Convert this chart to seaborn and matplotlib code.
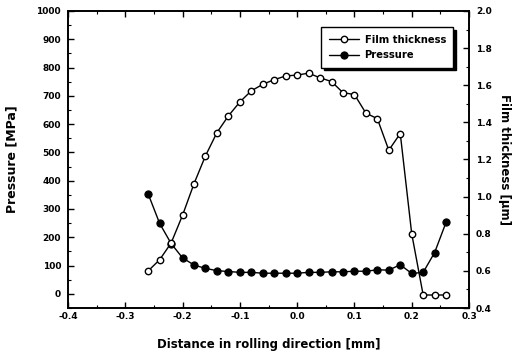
import matplotlib
matplotlib.use("Agg")
import matplotlib.pyplot as plt
import seaborn as sns
import pandas as pd
from matplotlib.ticker import MultipleLocator

# ---- data ----
distance = [-0.26, -0.24, -0.22, -0.20, -0.18, -0.16, -0.14, -0.12, -0.10,
            -0.08, -0.06, -0.04, -0.02, 0.00, 0.02, 0.04, 0.06, 0.08,
            0.10, 0.12, 0.14, 0.16, 0.18, 0.20, 0.22, 0.24, 0.26]
film_thickness = [0.60, 0.66, 0.75, 0.90, 1.07, 1.22, 1.345, 1.435, 1.51,
                  1.57, 1.605, 1.63, 1.65, 1.655, 1.665, 1.64, 1.62, 1.56,
                  1.55, 1.45, 1.42, 1.25, 1.34, 0.80, 0.47, 0.47, 0.47]
pressure = [353, 249, 178, 127, 102, 90, 82, 79, 76,
            76, 73, 73, 73, 73, 76, 76, 78, 78,
            80, 80, 85, 84, 103, 72, 76, 146, 253]

x_ticks = [-0.4, -0.3, -0.2, -0.1, 0.0, 0.1, 0.2, 0.3]
x_tick_labels = ["-0.4", "-0.3", "-0.2", "-0.1", "0.0", "0.1", "0.2", "0.3"]
p_ticks = [0, 100, 200, 300, 400, 500, 600, 700, 800, 900, 1000]
f_ticks = [0.4, 0.6, 0.8, 1.0, 1.2, 1.4, 1.6, 1.8, 2.0]

df = pd.DataFrame({"distance": distance, "film": film_thickness, "pressure": pressure})

sns.set_style("ticks")
plt.rcParams["font.family"] = ["DejaVu Sans"]
plt.rcParams["font.weight"] = "bold"
plt.rcParams["text.color"] = "black"
plt.rcParams["axes.labelcolor"] = "black"
plt.rcParams["xtick.color"] = "black"
plt.rcParams["ytick.color"] = "black"

fig = plt.figure(figsize=(5.16, 3.6), dpi=100)
ax = fig.add_axes([68 / 516, 1 - 308 / 360, (469 - 68) / 516, (308 - 11) / 360])
ax2 = ax.twinx()

sns.lineplot(data=df, x="distance", y="pressure", ax=ax, color="black",
             lw=1.0, marker="o", markersize=5.2, markerfacecolor="black",
             markeredgecolor="black", label="Pressure", legend=False)
sns.lineplot(data=df, x="distance", y="film", ax=ax2, color="black",
             lw=1.0, marker="o", markersize=4.6, markerfacecolor="white",
             markeredgecolor="black", markeredgewidth=1.0,
             label="Film thickness", legend=False)

ax.set_xlim(-0.4, 0.3)
ax.set_ylim(-50, 1000)
ax2.set_ylim(0.4, 2.0)
ax.set_xticks(x_ticks)
ax.set_xticklabels(x_tick_labels)
ax.set_yticks(p_ticks)
ax2.set_yticks(f_ticks)
ax2.set_yticklabels([f"{v:.1f}" for v in f_ticks])
ax.xaxis.set_minor_locator(MultipleLocator(0.05))
ax.yaxis.set_minor_locator(MultipleLocator(50))
ax2.yaxis.set_minor_locator(MultipleLocator(0.1))

for a in (ax, ax2):
    for s in a.spines.values():
        s.set_visible(True)
        s.set_linewidth(1.2)
        s.set_color("black")

ax.tick_params(axis="both", which="major", direction="in", length=4, width=1,
               labelsize=6.5, colors="black", top=True)
ax.tick_params(axis="both", which="minor", direction="in", length=2, width=0.8, top=True)
ax.tick_params(axis="x", pad=3)
ax.tick_params(axis="y", pad=5)
ax2.tick_params(axis="y", which="major", direction="in", length=4, width=1,
                labelsize=6.5, pad=5, colors="black")
ax2.tick_params(axis="y", which="minor", direction="in", length=2, width=0.8)
for lab in ax.get_xticklabels() + ax.get_yticklabels() + ax2.get_yticklabels():
    lab.set_fontweight("bold")

ax.set_xlabel("Distance in rolling direction [mm]", fontsize=8.5, fontweight="bold",
              labelpad=12, color="black")
ax.set_ylabel("Pressure [MPa]", fontsize=9, fontweight="bold", labelpad=13, color="black")
ax2.set_ylabel("Film thickness [\u03bcm]", fontsize=8.5, fontweight="bold",
               rotation=270, labelpad=14, color="black")

h1, l1 = ax2.get_legend_handles_labels()
h2, l2 = ax.get_legend_handles_labels()
leg = ax2.legend(h1 + h2, l1 + l2, loc="upper left", bbox_to_anchor=(0.631, 0.946),
                 fontsize=7.2, frameon=True, fancybox=False,
                 shadow={"color": "black", "alpha": 1.0},
                 edgecolor="black", framealpha=1, handlelength=3.0,
                 borderpad=0.75, labelspacing=0.55, borderaxespad=0,
                 handletextpad=0.6)
leg.get_frame().set_linewidth(1.0)
for t in leg.get_texts():
    t.set_fontweight("bold")
    t.set_color("black")

fig.savefig("out.png", dpi=100)
